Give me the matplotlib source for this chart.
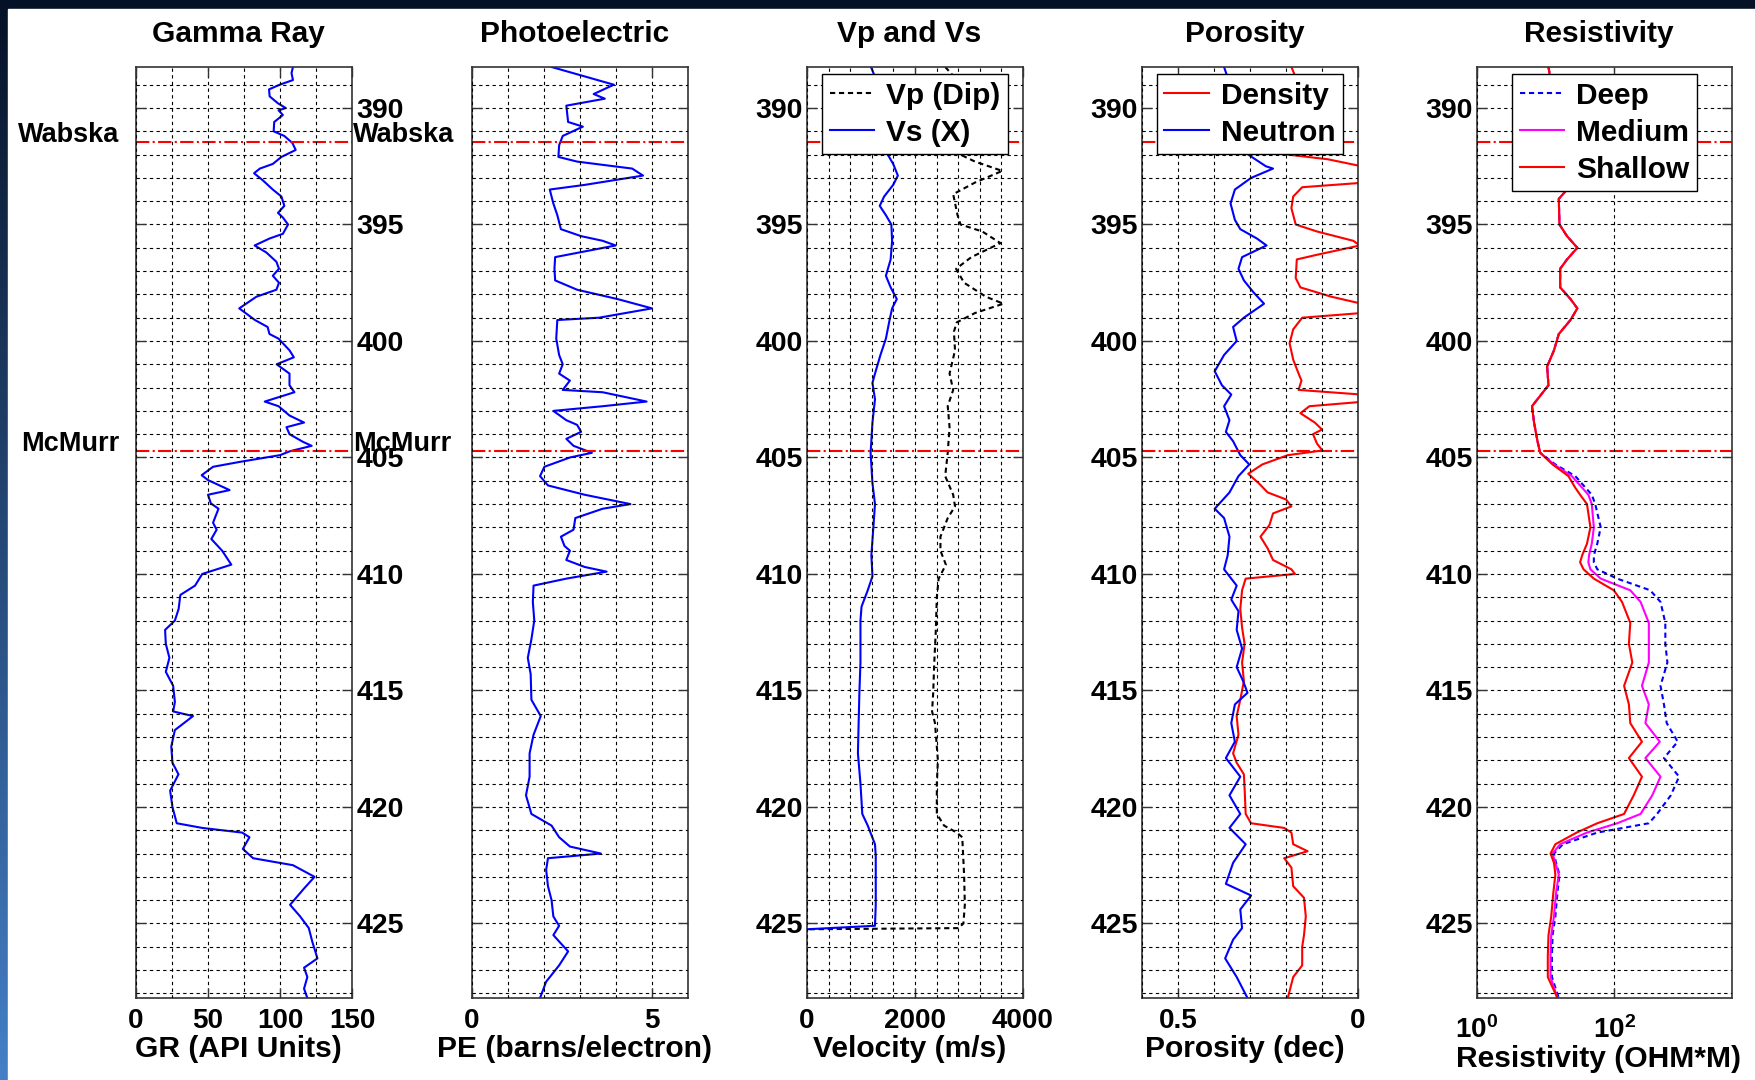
import matplotlib.pyplot as plt
import numpy as np
import matplotlib.transforms as mtransforms
from matplotlib.patches import Rectangle
from matplotlib.ticker import MultipleLocator, NullLocator

plt.rcParams['font.family'] = ['Liberation Sans', 'DejaVu Sans']
plt.rcParams['font.weight'] = 'bold'
plt.rcParams['axes.titleweight'] = 'bold'
plt.rcParams['axes.labelweight'] = 'bold'
plt.rcParams['mathtext.fontset'] = 'custom'
plt.rcParams['mathtext.rm'] = 'Liberation Sans:bold'
plt.rcParams['mathtext.bf'] = 'Liberation Sans:bold'

# ---- data (depth in m) ----
depth_top, depth_bot = 388.24, 428.2

tops_names = ['Wabska', 'McMurr']
tops_depth = [391.45, 404.73]

gr_depth = [388.24, 388.5, 388.8, 389.0, 389.2, 389.5, 389.8, 390.0, 390.1, 390.3, 390.6, 391.0, 391.2,
            391.5, 391.8, 392.1, 392.4, 392.6, 392.8, 393.1, 393.5, 393.8, 394.2, 394.5, 394.7, 395.0,
            395.4, 395.6, 395.9, 396.2, 396.6, 396.9, 397.2, 397.5, 397.8, 398.1, 398.6, 399.1, 399.4,
            399.7, 399.9, 400.4, 400.7, 401.0, 401.4, 401.9, 402.2, 402.6, 402.8, 403.2, 403.5, 403.7,
            404.0, 404.33, 404.5, 404.73, 404.9, 405.19, 405.4, 405.76, 405.97, 406.4, 406.6, 406.97,
            407.2, 407.8, 408.1, 408.5, 409.0, 409.6, 410.0, 410.5, 410.9, 411.5, 412.0, 412.4, 413.0,
            413.6, 414.2, 414.8, 415.5, 415.9, 416.1, 416.7, 417.4, 418.1, 418.6, 419.3, 420.0, 420.7,
            420.9, 421.1, 421.3, 421.8, 422.2, 422.5, 423.0, 423.5, 424.2, 424.7, 425.2, 425.8, 426.5,
            426.9, 427.3, 427.8, 428.2]
gr = [109, 108, 109, 99.8, 92.4, 92.8, 98.6, 104, 99, 102, 96, 95.6, 103,
      108.6, 110.9, 101, 95, 86, 82, 88, 95, 101, 103, 98.6, 102, 105.6,
      102, 92.8, 82.4, 90.5, 97.5, 99.3, 95, 99.3, 97.5, 83.6, 71.7, 82.6, 91.4,
      92.7, 99, 106.6, 109.6, 97.7, 106.6, 106.6, 110, 89.4, 99, 106.6, 116.7, 104.5,
      106.6, 116, 122, 107, 100, 72, 53.5, 45.6, 50, 65, 50, 52,
      57.3, 53.5, 56, 52.3, 59.8, 66.2, 46, 41, 30.8, 29.6, 27, 20.2, 20.7,
      23.2, 20.7, 25.8, 27, 25.8, 39.6, 27, 24.5, 25.3, 29.5, 23.7, 25.3, 28.3,
      46, 73.7, 78.8, 74.2, 81.3, 109, 124, 116.7, 107, 114, 120, 122.5, 126,
      116.7, 119, 116.7, 119]

pe_depth = [388.24, 388.6, 389.0, 389.4, 389.6, 389.9, 390.6, 390.8, 391.2, 391.6, 392.1, 392.3, 392.6,
            392.9, 393.3, 393.5, 394.1, 394.6, 395.2, 395.5, 395.7, 395.9, 396.4, 396.9, 397.4, 397.8,
            398.2, 398.6, 399.0, 399.1, 399.9, 400.6, 401.0, 401.4, 401.7, 402.1, 402.2, 402.6, 402.8,
            403.0, 403.4, 403.6, 403.9, 404.2, 404.5, 404.8, 405.0, 405.4, 405.8, 406.2, 406.6, 407.0,
            407.2, 407.6, 408.1, 408.4, 408.8, 409.0, 409.4, 409.7, 409.9, 410.2, 410.5, 411.2, 412.0,
            412.8, 413.6, 414.3, 415.4, 416.1, 416.9, 417.7, 418.7, 419.5, 420.3, 420.8, 421.3, 421.7,
            422.0, 422.2, 422.7, 423.4, 424.0, 424.7, 425.1, 425.5, 426.2, 426.8, 427.5, 428.2]
pe = [2.21, 3.03, 3.94, 3.38, 3.69, 2.62, 2.67, 3.08, 2.52, 2.42, 2.40, 2.92, 4.45,
      4.75, 3.13, 2.16, 2.26, 2.37, 2.47, 3.03, 3.63, 3.99, 2.31, 2.29, 2.31, 2.92,
      4.04, 5.0, 3.53, 2.37, 2.34, 2.42, 2.52, 2.42, 2.72, 2.52, 3.63, 4.85, 3.63,
      2.26, 2.62, 2.92, 3.03, 2.62, 2.82, 3.33, 2.72, 2.01, 1.89, 2.11, 3.13, 4.4,
      3.63, 2.87, 2.82, 2.47, 2.57, 2.72, 2.62, 3.13, 3.74, 2.62, 1.71, 1.69, 1.73,
      1.65, 1.55, 1.63, 1.65, 1.91, 1.71, 1.60, 1.60, 1.50, 1.65, 2.21, 2.42, 2.72,
      3.58, 2.11, 2.06, 2.11, 2.21, 2.26, 2.42, 2.26, 2.67, 2.42, 2.06, 1.89]

vp_depth = [388.24, 388.6, 389.2, 390.0, 391.0, 391.8, 392.0, 392.3, 392.7, 393.2, 393.7, 394.6, 395.0,
            395.3, 395.8, 396.4, 396.9, 397.5, 398.1, 398.4, 398.8, 399.2, 399.6, 400.4, 401.4, 402.1,
            402.8, 403.7, 404.8, 405.8, 406.6, 407.1, 407.6, 408.4, 409.0, 409.6, 410.2, 411.0, 412.5,
            413.8, 415.1, 415.9, 416.4, 418.0, 419.0, 420.3, 420.8, 421.1, 421.3, 422.9, 424.2, 425.0,
            425.2, 425.25]
vp = [2560, 2700, 2900, 3000, 3000, 2900, 2840, 3111, 3616, 3111, 2707, 2788, 2842,
      3246, 3582, 3044, 2761, 2909, 3313, 3636, 3111, 2774, 2721, 2741, 2640, 2707,
      2606, 2640, 2606, 2559, 2707, 2741, 2606, 2471, 2471, 2572, 2438, 2404, 2384,
      2357, 2337, 2316, 2370, 2424, 2404, 2404, 2539, 2774, 2875, 2909, 2923, 2896,
      2808, 0]

vs_depth = [388.24, 388.9, 390.0, 391.1, 392.0, 392.4, 392.9, 393.3, 393.8, 394.2, 394.6, 395.0, 395.7,
            396.5, 397.2, 397.7, 398.2, 398.6, 399.1, 399.9, 400.6, 401.4, 401.8, 402.5, 403.5, 404.8,
            406.1, 407.0, 408.1, 409.2, 410.1, 410.7, 411.4, 412.0, 413.8, 415.1, 416.4, 417.7, 419.0,
            420.3, 420.8, 421.6, 422.1, 424.2, 425.1, 425.25]
vs = [1185, 1300, 1461, 1495, 1495, 1596, 1683, 1596, 1428, 1347, 1461, 1562, 1576,
      1549, 1461, 1549, 1663, 1576, 1529, 1461, 1360, 1259, 1212, 1259, 1212, 1178,
      1212, 1259, 1226, 1192, 1212, 1125, 1010, 990, 990, 970, 956, 943, 990,
      1024, 1125, 1259, 1273, 1273, 1259, 0]

nphi_depth = [388.24, 388.7, 389.5, 390.5, 391.5, 392.0, 392.5, 392.6, 393.0, 393.5, 394.1, 394.8, 395.2,
              395.6, 395.9, 396.4, 396.9, 397.4, 397.9, 398.4, 399.0, 399.4, 400.0, 400.6, 401.3, 401.9,
              402.3, 402.8, 403.4, 403.9, 404.3, 404.9, 405.3, 405.8, 406.5, 407.2, 407.6, 408.4, 409.2,
              409.8, 410.5, 411.1, 411.6, 412.4, 413.2, 414.0, 414.6, 415.1, 415.6, 416.4, 417.2, 417.9,
              418.7, 419.5, 420.3, 420.9, 421.6, 422.4, 423.3, 423.8, 424.4, 425.2, 425.7, 426.5, 427.3,
              428.2]
nphi = [0.372, 0.362, 0.35, 0.34, 0.33, 0.305, 0.256, 0.236, 0.297, 0.342, 0.354, 0.342, 0.327,
        0.281, 0.254, 0.322, 0.332, 0.317, 0.291, 0.261, 0.317, 0.347, 0.337, 0.372, 0.398, 0.378,
        0.352, 0.372, 0.357, 0.367, 0.347, 0.327, 0.302, 0.332, 0.357, 0.398, 0.372, 0.357, 0.362,
        0.372, 0.337, 0.352, 0.332, 0.337, 0.322, 0.337, 0.319, 0.307, 0.342, 0.352, 0.342, 0.367,
        0.327, 0.357, 0.327, 0.357, 0.312, 0.347, 0.367, 0.297, 0.327, 0.322, 0.347, 0.369, 0.337,
        0.307]

dphi_depth = [388.24, 388.8, 389.3, 389.5, 389.7, 390.5, 391.5, 392.0, 392.2, 392.5, 392.9, 393.2, 393.4,
              393.8, 394.3, 395.0, 395.3, 395.7, 395.9, 396.3, 396.5, 397.3, 397.7, 398.1, 398.4, 398.8,
              399.0, 399.5, 400.1, 400.8, 401.4, 401.7, 402.1, 402.3, 402.6, 402.8, 403.1, 403.5, 403.8,
              404.0, 404.4, 404.7, 404.9, 405.3, 405.7, 406.1, 406.5, 406.8, 407.1, 407.4, 407.9, 408.4,
              408.9, 409.4, 409.8, 410.0, 410.2, 410.7, 411.5, 412.3, 413.0, 413.8, 414.6, 415.4, 416.1,
              416.9, 417.7, 418.1, 418.6, 419.2, 420.3, 420.7, 420.9, 421.1, 421.6, 421.9, 422.2, 422.6,
              423.4, 423.9, 424.7, 425.5, 426.0, 426.8, 427.3, 428.2]
dphi = [0.185, 0.17, 0.09, 0.05, 0.09, 0.17, 0.19, 0.195, 0.084, -0.01, -0.03, -0.02, 0.155,
        0.18, 0.185, 0.173, 0.114, 0.013, -0.005, 0.114, 0.17, 0.173, 0.16, 0.074, -0.01, -0.01,
        0.155, 0.18, 0.19, 0.18, 0.165, 0.157, 0.165, -0.01, -0.02, 0.135, 0.16, 0.12, 0.10,
        0.125, 0.114, 0.099, 0.195, 0.266, 0.305, 0.276, 0.251, 0.2, 0.185, 0.236, 0.246, 0.271,
        0.251, 0.236, 0.185, 0.175, 0.312, 0.322, 0.327, 0.322, 0.315, 0.322, 0.317, 0.327, 0.337,
        0.332, 0.347, 0.337, 0.317, 0.315, 0.312, 0.297, 0.205, 0.185, 0.18, 0.14, 0.205, 0.185,
        0.18, 0.15, 0.145, 0.15, 0.155, 0.155, 0.18, 0.195]

res_depth = [388.24, 388.6, 389.5, 390.5, 391.5, 392.5, 393.5, 393.9, 395.0, 395.5, 396.0, 396.5, 396.9,
             397.7, 398.2, 398.6, 399.1, 399.7, 400.4, 401.1, 401.9, 402.5, 402.8, 403.5, 404.3, 404.8,
             405.3, 405.8, 406.3, 406.6, 407.0, 408.0, 408.7, 409.2, 409.5, 409.8, 410.2, 410.7, 411.2,
             412.1, 413.0, 413.8, 414.8, 415.6, 416.4, 417.2, 417.9, 418.7, 419.5, 420.3, 420.7, 421.1,
             421.6, 422.0, 422.4, 422.9, 423.7, 424.7, 425.5, 426.4, 427.3, 428.2]
# log10(ohm.m)
res_deep_log = [1.04, 1.06, 1.10, 1.15, 1.20, 1.26, 1.31, 1.19, 1.20, 1.31, 1.46, 1.31, 1.21,
                1.21, 1.36, 1.46, 1.36, 1.19, 1.12, 1.02, 1.04, 0.88, 0.80, 0.83, 0.88, 0.92,
                1.14, 1.43, 1.58, 1.67, 1.72, 1.80, 1.75, 1.70, 1.70, 1.75, 2.04, 2.52, 2.67,
                2.74, 2.74, 2.77, 2.67, 2.72, 2.76, 2.92, 2.72, 2.94, 2.82, 2.62, 2.50, 1.75,
                1.25, 1.12, 1.15, 1.20, 1.17, 1.14, 1.10, 1.09, 1.09, 1.19]
res_med_log = [1.04, 1.06, 1.10, 1.15, 1.20, 1.26, 1.31, 1.19, 1.20, 1.31, 1.46, 1.31, 1.21,
               1.21, 1.36, 1.46, 1.36, 1.19, 1.12, 1.02, 1.04, 0.88, 0.80, 0.83, 0.88, 0.92,
               1.12, 1.38, 1.53, 1.62, 1.67, 1.70, 1.67, 1.63, 1.62, 1.65, 1.80, 2.23, 2.38,
               2.50, 2.50, 2.50, 2.40, 2.50, 2.45, 2.66, 2.45, 2.67, 2.55, 2.38, 2.04, 1.60,
               1.21, 1.10, 1.14, 1.19, 1.15, 1.12, 1.08, 1.07, 1.07, 1.17]
res_shal_log = [1.04, 1.06, 1.10, 1.15, 1.20, 1.26, 1.31, 1.19, 1.20, 1.31, 1.46, 1.31, 1.21,
                1.21, 1.36, 1.46, 1.36, 1.19, 1.12, 1.02, 1.04, 0.88, 0.80, 0.83, 0.88, 0.92,
                1.10, 1.33, 1.43, 1.50, 1.60, 1.65, 1.60, 1.53, 1.50, 1.55, 1.70, 1.99, 2.11,
                2.23, 2.21, 2.26, 2.14, 2.21, 2.23, 2.40, 2.21, 2.40, 2.28, 2.14, 1.75, 1.45,
                1.14, 1.07, 1.12, 1.14, 1.11, 1.08, 1.04, 1.03, 1.03, 1.17]

# ---- figure ----
fig = plt.figure(figsize=(17.56, 10.8), dpi=100)

# slide background: dark blue edge on left/top, white page
bg = fig.add_axes([0, 0, 1, 1], zorder=-10)
bg.axis('off')
top_c = np.array([0.02, 0.07, 0.15])
bot_c = np.array([0.27, 0.50, 0.78])
t = np.linspace(0, 1, 256)[:, None, None]
grad = top_c * (1 - t) + bot_c * t
bg.imshow(grad, extent=[0, 1, 0, 1], aspect='auto')
bg.add_patch(Rectangle((8 / 1756, 0), 1, (1080 - 9) / 1080, color='white'))
bg.set_xlim(0, 1)
bg.set_ylim(0, 1)

W, H = 1756, 1080
ax_bottom = (H - 998) / H
ax_height = 931 / H
lefts = [136, 472, 807, 1142, 1477]
widths = [216, 216, 216, 216, 255]
axes = [fig.add_axes([l / W, ax_bottom, w / W, ax_height]) for l, w in zip(lefts, widths)]
ax_gr, ax_pe, ax_v, ax_por, ax_res = axes

titles = ['Gamma Ray', 'Photoelectric', 'Vp and Vs', 'Porosity', 'Resistivity']
xlabels = ['GR (API Units)', 'PE (barns/electron)', 'Velocity (m/s)', 'Porosity (dec)', 'Resistivity (OHM*M)']

ax_gr.plot(gr, gr_depth, color='#0000ff', lw=1.5)
ax_pe.plot(pe, pe_depth, color='#0000ff', lw=1.5)
ax_v.plot(vp, vp_depth, color='k', lw=1.5, ls=(0, (2.5, 1.8)), label='Vp (Dip)')
ax_v.plot(vs, vs_depth, color='#0000ff', lw=1.5, label='Vs (X)')
ax_por.plot(dphi, dphi_depth, color='#ff0000', lw=1.5, label='Density')
ax_por.plot(nphi, nphi_depth, color='#0000ff', lw=1.5, label='Neutron')
ax_res.plot(10 ** np.array(res_deep_log), res_depth, color='#0000ff', lw=1.5, ls=(0, (2.5, 1.8)), label='Deep')
ax_res.plot(10 ** np.array(res_med_log), res_depth, color='#ff00ff', lw=1.5, label='Medium')
ax_res.plot(10 ** np.array(res_shal_log), res_depth, color='#ff0000', lw=1.5, label='Shallow')

ax_gr.set_xlim(0, 150)
ax_gr.set_xticks([0, 50, 100, 150])
ax_gr.xaxis.set_minor_locator(MultipleLocator(25))
ax_pe.set_xlim(0, 6)
ax_pe.set_xticks([0, 5])
ax_pe.xaxis.set_minor_locator(MultipleLocator(1))
ax_v.set_xlim(0, 4000)
ax_v.set_xticks([0, 2000, 4000])
ax_v.xaxis.set_minor_locator(MultipleLocator(400))
ax_por.set_xlim(0.6, 0)
ax_por.set_xticks([0.5, 0], ['0.5', '0'])
ax_por.xaxis.set_minor_locator(MultipleLocator(0.1))
ax_res.set_xscale('log')
ax_res.set_xlim(1, 10 ** 3.71)
ax_res.set_xticks([1, 100], [r'$\mathbf{10^{0}}$', r'$\mathbf{10^{2}}$'])
ax_res.xaxis.set_minor_locator(NullLocator())

for i, ax in enumerate(axes):
    ax.set_ylim(depth_bot, depth_top)
    ax.yaxis.set_major_locator(MultipleLocator(5))
    ax.yaxis.set_minor_locator(MultipleLocator(1))
    ax.grid(which='both', color='k', ls=(0, (3, 3)), lw=0.8)
    ax.set_axisbelow(False)
    ax.tick_params(which='both', direction='in', top=True, bottom=True, left=True, right=True,
                   labelsize=20, pad=7)
    ax.tick_params(which='major', length=7, width=1.0, color='#333333')
    ax.tick_params(which='minor', length=0)
    for s in ax.spines.values():
        s.set_color('#333333')
        s.set_linewidth(1.2)
    ax.tick_params(axis='y', pad=3, labelsize=20.5)
    if i == 0:
        ax.tick_params(axis='y', labelleft=False, labelright=True)
    elif i == 1:
        ax.tick_params(axis='y', labelleft=False, labelright=False)
    shift = 5.5 / widths[i]
    ax.set_title(titles[i], fontsize=21.5, pad=18, x=0.5 - shift)
    ax.set_xlabel(xlabels[i], fontsize=21.6, labelpad=1)
    ax.xaxis.label.set_x(0.5 - shift)
    for d in tops_depth:
        ax.axhline(d, color='#ff0000', ls='-.', lw=1.5)

ax_res.tick_params(axis='x', pad=13)

for ax in [ax_v, ax_por, ax_res]:
    leg = ax.legend(loc='upper center', bbox_to_anchor=(0.5, 0.992), fancybox=False, framealpha=1,
                    edgecolor='k', fontsize=21.5, handlelength=1.5, handletextpad=0.4,
                    labelspacing=0.3, borderpad=0.25, borderaxespad=0)
    leg.get_frame().set_linewidth(1.0)

trans = mtransforms.blended_transform_factory(ax_gr.transAxes, ax_gr.transData)
for name, d in zip(tops_names, tops_depth):
    ax_gr.text(-0.079, d, name, transform=trans, ha='right', va='baseline', fontsize=19.5)
    ax_gr.text(1.005, d, name, transform=trans, ha='left', va='baseline', fontsize=19.5)

fig.savefig('out.png', dpi=100)
